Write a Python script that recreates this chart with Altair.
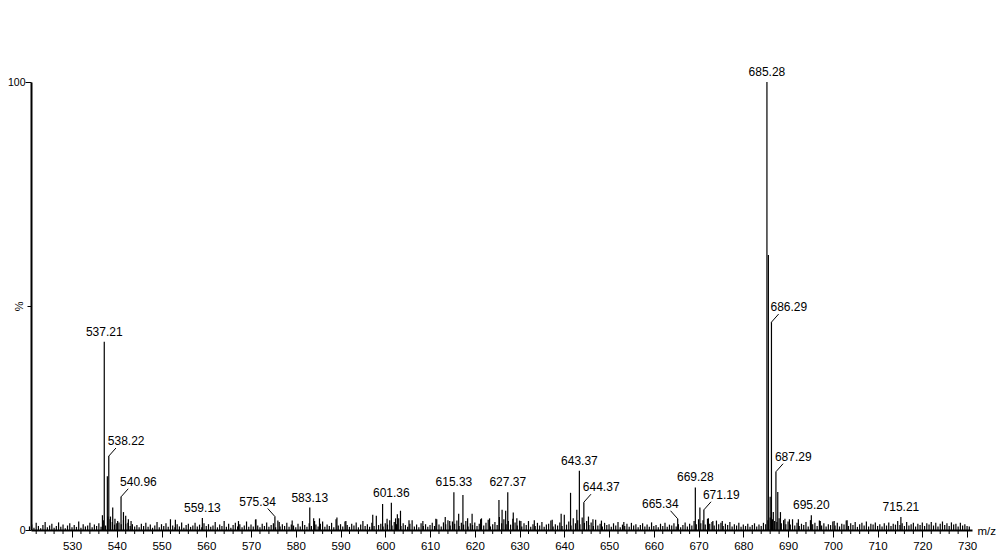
import altair as alt
import pandas as pd

# ---- data ----
peak_mz = [536.8, 537.21, 537.9, 538.22, 538.6, 539.1, 539.6, 540.2, 540.96, 541.5,
           542.0, 542.6, 543.2, 553.1, 559.13, 567.2, 571.1, 575.34, 576.3, 579.2,
           583.13, 584.2, 585.3, 589.2, 591.2, 597.2, 599.4, 600.4, 601.36, 602.3,
           602.7, 603.4, 605.3, 608.4, 611.3, 613.4, 614.4, 615.33, 616.4, 617.35,
           618.4, 619.4, 621.3, 623.3, 625.4, 626.1, 626.9, 627.37, 628.6, 629.4,
           630.3, 633.3, 637.3, 639.3, 641.4, 642.8, 643.37, 644.37, 645.4, 646.4,
           648.3, 653.3, 665.34, 669.28, 670.3, 671.19, 672.2, 673.2, 675.3, 685.28,
           685.6, 686.0, 686.29, 686.7, 687.29, 687.7, 688.3, 689.3, 690.3, 692.3,
           695.20, 697.2, 700.3, 703.2, 715.21]
peak_int = [3.3, 42.0, 12.0, 16.5, 3.0, 5.0, 2.5, 2.0, 7.4, 4.0,
            3.2, 2.4, 2.0, 2.3, 2.7, 2.0, 2.4, 3.0, 1.8, 2.1,
            5.0, 2.0, 2.6, 2.8, 2.0, 3.4, 5.8, 2.5, 6.1, 2.6,
            3.5, 4.3, 2.2, 2.0, 2.5, 2.9, 2.0, 8.4, 3.6, 7.8,
            2.6, 3.6, 2.4, 2.6, 6.7, 4.5, 4.3, 8.4, 3.9, 2.6,
            2.0, 2.2, 2.3, 3.6, 8.3, 4.5, 13.2, 6.2, 3.0, 2.4,
            2.1, 1.8, 2.5, 9.5, 5.0, 4.5, 2.6, 2.0, 2.0, 100.0,
            61.4, 7.4, 46.4, 4.0, 13.0, 8.5, 4.0, 2.5, 2.4, 2.4,
            3.3, 2.0, 2.0, 2.2, 2.9]

# baseline noise, one value every 0.5 m/z starting at 520.5
noise_start = 520.5
noise_step = 0.5
noise_int = [
    0.8, 1.2, 0.5, 1.6, 0.9, 0.4, 1.1, 1.8, 0.6, 1.0, 1.4, 0.5, 0.9, 1.7, 0.7, 1.2, 0.4, 1.0, 1.5, 0.6,
    1.1, 0.7, 1.9, 0.5, 1.3, 0.8, 1.0, 1.6, 0.6, 1.2, 0.9, 1.5, 0.7, 2.2, 1.0, 3.0, 2.4, 1.8, 1.2, 1.5,
    1.7, 1.3, 2.2, 1.4, 1.6, 0.9, 1.3, 0.8, 1.1, 0.6, 1.4, 0.9, 1.6, 0.7, 1.2, 0.5, 1.0, 1.8, 0.6, 1.3,
    0.9, 1.5, 0.7, 2.4, 1.0, 0.6, 1.3, 0.8, 1.7, 0.5, 1.1, 1.4, 0.7, 1.0, 1.6, 0.8, 1.2, 0.6, 1.5, 0.9,
    1.3, 0.7, 1.0, 1.8, 0.6, 1.2, 0.9, 2.0, 0.7, 1.4, 0.5, 1.1, 1.6, 0.8, 1.3, 0.6, 1.0, 1.9, 0.7, 1.2,
    0.8, 2.3, 1.0, 0.6, 1.4, 0.9, 1.7, 0.7, 1.1, 1.5, 0.6, 2.1, 0.8, 1.3, 0.9, 1.6, 0.7, 1.2, 1.0, 0.6,
    1.4, 0.8, 2.0, 1.1, 0.7, 1.5, 0.9, 2.6, 1.2, 0.8, 1.4, 1.9, 0.7, 1.2, 0.9, 1.6, 0.6, 2.4, 1.0, 1.3,
    0.8, 1.9, 1.1, 0.7, 1.4, 1.0, 1.7, 0.6, 1.2, 2.0, 0.9, 1.3, 0.7, 1.6, 0.9, 3.2, 1.1, 1.4, 0.8, 1.5,
    1.2, 2.2, 1.0, 1.8, 1.3, 2.6, 0.9, 1.5, 1.1, 0.7, 1.4, 2.2, 0.8, 1.2, 0.6, 1.5, 0.9, 1.3, 0.7, 1.1,
    1.6, 0.9, 2.4, 1.2, 0.8, 1.7, 1.3, 2.2, 1.0, 1.9, 1.4, 2.1, 0.9, 1.6, 1.2, 2.0, 0.8, 1.5, 1.1, 1.7,
    0.9, 1.4, 2.6, 1.0, 1.6, 2.3, 0.8, 1.3, 1.8, 1.1, 2.9, 1.5, 2.4, 1.3, 2.0, 1.2, 2.5, 1.7, 1.0, 2.1,
    0.8, 1.5, 1.1, 2.0, 0.7, 1.3, 0.9, 1.6, 1.0, 1.8, 0.7, 1.2, 1.4, 2.1, 0.8, 1.3, 1.0, 1.7, 0.9, 3.4,
    1.2, 1.9, 1.0, 2.6, 1.5, 2.2, 1.3, 2.8, 1.6, 2.0, 1.1, 1.7, 0.9, 2.3, 1.0, 1.4, 0.8, 1.6, 1.1, 1.3,
    0.7, 1.5, 1.0, 1.8, 0.6, 1.2, 0.9, 1.4, 0.7, 1.6, 1.0, 1.3, 0.6, 1.1, 1.5, 0.8, 1.2, 0.7, 1.7, 0.9,
    1.1, 0.6, 1.4, 0.9, 1.6, 0.7, 1.2, 1.0, 1.5, 0.8, 1.3, 0.6, 1.1, 1.7, 0.8, 1.4, 1.0, 2.0, 1.3, 2.4,
    1.5, 2.2, 1.2, 2.5, 1.4, 1.8, 1.0, 2.1, 1.3, 1.6, 0.9, 1.4, 1.1, 1.8, 0.8, 1.3, 1.0, 1.6, 0.7, 1.2,
    0.9, 1.4, 0.7, 1.1, 1.5, 0.8, 1.2, 0.9, 1.6, 1.3, 2.2, 2.8, 2.4, 2.0, 1.8, 2.6, 1.5, 2.2, 1.3, 1.9,
    1.2, 2.4, 1.0, 1.6, 0.9, 1.4, 1.1, 1.8, 0.8, 2.2, 1.3, 1.6, 0.9, 2.1, 1.0, 1.5, 0.8, 1.3, 1.1, 1.9,
    1.0, 1.6, 0.8, 1.4, 1.2, 2.1, 0.9, 1.5, 1.1, 1.8, 0.7, 1.3, 1.6, 1.0, 1.9, 0.8, 1.4, 1.2, 1.7, 0.9,
    1.3, 0.8, 1.5, 1.0, 1.7, 0.9, 1.4, 1.2, 2.0, 1.1, 1.5, 0.9, 1.8, 1.0, 1.3, 1.6, 0.8, 1.4, 1.1, 1.7,
    0.9, 1.5, 1.2, 1.8, 1.0, 1.6, 0.8, 1.4, 1.9, 1.1, 1.5, 0.9, 1.7, 1.2, 1.4, 0.8, 1.6, 1.0, 1.3, 0.9,
    0.8,
]

label_text = ["537.21", "538.22", "540.96", "559.13", "575.34", "583.13", "601.36",
              "615.33", "627.37", "643.37", "644.37", "665.34", "669.28", "671.19",
              "685.28", "686.29", "687.29", "695.20", "715.21"]
label_side = ["top", "right", "right", "top", "left", "top", "top",
              "top", "top", "top", "right", "left", "top", "right",
              "top", "right", "right", "top", "top"]

x_major = list(range(530, 731, 10))
x_minor = [v for v in range(522, 731, 2) if v % 10 != 0]
y_ticks = [0, 50, 100]

# ---- tables ----
noise_mz = [noise_start + noise_step * i for i in range(len(noise_int))]
sticks = pd.DataFrame({"mz": noise_mz + peak_mz, "intensity": noise_int + peak_int})

lookup = dict(zip(peak_mz, peak_int))
lab_mz = [float(t) for t in label_text]
labels = pd.DataFrame({
    "text": label_text,
    "mz": lab_mz,
    "intensity": [lookup[m] for m in lab_mz],
    "side": label_side,
})
minor = pd.DataFrame({"mz": x_minor})

W, H = 941, 448
x_scale = alt.Scale(domain=[520.84, 731.1], nice=False, zero=False)
y_scale = alt.Scale(domain=[0, 100], nice=False)

x_axis = alt.Axis(
    values=x_major, tickSize=7,
    labelOverlap=False, labelFlush=False, grid=False,
    labelFontSize=11.5, labelPadding=3, labelColor="black",
    domainColor="black", tickColor="black", domainWidth=2,
    title="m/z", titleFontSize=11.5, titleFontWeight="normal", titleColor="black",
    titleX=W + 5, titleY=1, titleAlign="left", titleBaseline="middle", titleAnchor="start",
)
y_axis = alt.Axis(
    values=y_ticks,
    labelExpr="datum.value === 50 ? '' : datum.label",
    tickSize={"condition": {"test": "datum.value === 50", "value": 4}, "value": 6},
    labelFontSize=10.5, labelPadding=0, labelColor="black", grid=False,
    labelOverlap=False,
    domainColor="black", tickColor="black", domainWidth=2,
    title="%", titleAngle=90, titleFontSize=11, titleFontWeight="normal", titleColor="black",
    titleX=-13.5, titleY=H / 2, titleAlign="center", titleBaseline="middle",
)

base_x = alt.X("mz:Q", scale=x_scale, axis=x_axis)
base_y = alt.Y("intensity:Q", scale=y_scale, axis=y_axis)

stick_layer = alt.Chart(sticks).mark_rule(color="black", strokeWidth=1.2).encode(
    x=base_x, y=base_y, y2=alt.datum(0)
)

minor_ticks = alt.Chart(minor).mark_rule(color="black", strokeWidth=1).encode(
    x="mz:Q", y=alt.value(H), y2=alt.value(H + 4)
)

lab = alt.Chart(labels)
txt_kw = dict(fontSize=12, color="black", baseline="bottom")
top_text = lab.transform_filter("datum.side === 'top'").mark_text(align="center", dy=-3, **txt_kw).encode(
    x="mz:Q", y="intensity:Q", text="text:N")
right_text = lab.transform_filter("datum.side === 'right'").mark_text(align="left", dx=-1, dy=-8, **txt_kw).encode(
    x="mz:Q", y="intensity:Q", text="text:N")
left_text = lab.transform_filter("datum.side === 'left'").mark_text(align="right", dx=1, dy=-8, **txt_kw).encode(
    x="mz:Q", y="intensity:Q", text="text:N")

leaders = lab.transform_filter("datum.side !== 'top'").transform_calculate(
    mz2="datum.side === 'right' ? datum.mz + 1.6 : datum.mz - 1.6",
    int2="datum.intensity + 1.8",
).mark_rule(color="black", strokeWidth=1).encode(
    x="mz:Q", y="intensity:Q", x2="mz2:Q", y2="int2:Q")

chart = alt.layer(stick_layer, minor_ticks, leaders, top_text, right_text, left_text).properties(
    width=W, height=H,
    autosize=alt.AutoSizeParams(type="none"),
    padding={"left": 23, "top": 74, "right": 24, "bottom": 20},
).configure(font="Liberation Sans", background="white").configure_view(stroke=None)

chart.save("out.html", embed_options={"renderer": "svg", "actions": False})
